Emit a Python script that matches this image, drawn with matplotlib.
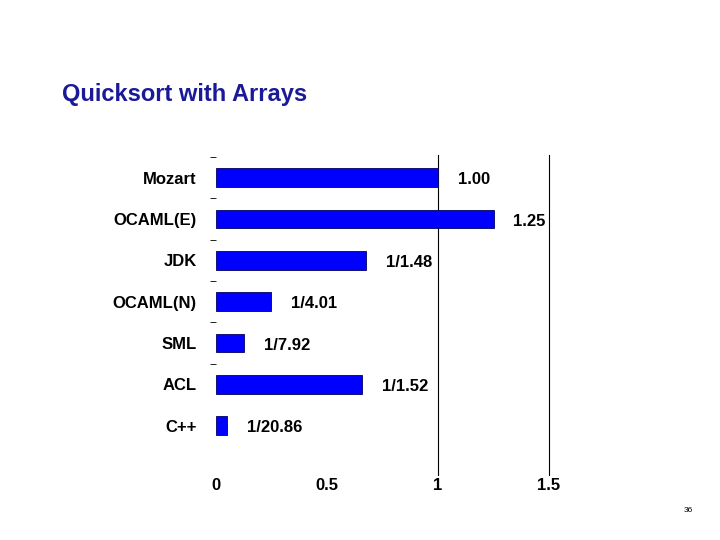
import matplotlib
matplotlib.use("Agg")
import matplotlib.pyplot as plt

categories = ["Mozart", "OCAML(E)", "JDK", "OCAML(N)", "SML", "ACL", "C++"]
values = [1.00, 1.25, 1/1.48, 1/4.01, 1/7.92, 1/1.52, 1/20.86]
labels = ["1.00", "1.25", "1/1.48", "1/4.01", "1/7.92", "1/1.52", "1/20.86"]
xticks = [0, 0.5, 1, 1.5]
xticklabels = ["0", "0.5", "1", "1.5"]

plt.rcParams['font.family'] = ['Liberation Sans', 'DejaVu Sans']
fig = plt.figure(figsize=(7.2, 5.4), dpi=100)
ax = fig.add_axes([0.3, 0.12, 0.4625, 0.593])
y = list(range(len(categories)))
ax.barh(y, values, height=0.45, color="#0000FF", edgecolor="#000060", linewidth=0.6, zorder=3)
for yi, v, lab in zip(y, values, labels):
    ax.text(v + 0.09, yi + 0.05, lab, va="center", ha="left", fontsize=12, fontweight="bold")
ax.set_xlim(0, 1.5)
ax.set_ylim(7.2, -0.55)
for gx in [1, 1.5]:
    ax.axvline(gx, color="black", linewidth=0.8, zorder=1, clip_on=False)
ax.set_yticks(y)
ax.set_yticklabels(categories, fontsize=12, fontweight="bold")
ax.tick_params(axis="y", length=0, pad=14)
ax.set_yticks([i + 0.5 for i in range(-1, 5)], minor=True)
ax.tick_params(axis="y", which="minor", length=4, width=0.6)
ax.set_xticks(xticks)
ax.set_xticklabels(xticklabels, fontsize=12, fontweight="bold")
ax.tick_params(axis="x", length=0, pad=2)
for s in ax.spines.values():
    s.set_visible(False)
fig.text(62/720, 1-95/540, "Quicksort with Arrays", fontsize=17, fontweight="bold", color="#1a1a99", va="center")
fig.text(688/720, 1-511/540, "36", fontsize=6, ha="center", va="center")
fig.savefig("out.png", dpi=100)
